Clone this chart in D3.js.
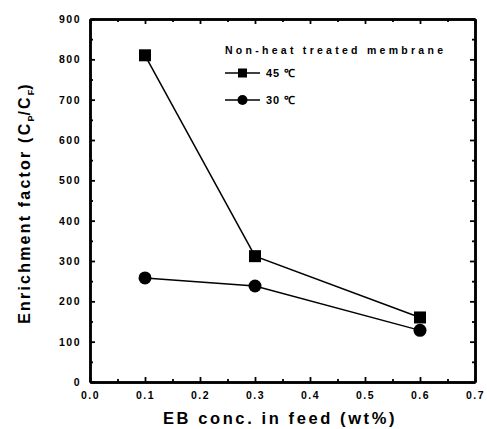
<!DOCTYPE html>
<html>
<head>
<meta charset="utf-8">
<script src="https://cdnjs.cloudflare.com/ajax/libs/d3/7.8.5/d3.min.js"></script>
<style>
  body { margin: 0; background: #fff; }
  text { font-family: Arial, "Liberation Sans", sans-serif; font-weight: bold; fill: #000; }
</style>
</head>
<body>
<div id="chart"></div>
<script>
// data
var conc = [0.1, 0.3, 0.6];
var ef45 = [810, 312, 160];
var ef30 = [258, 238, 128];
var xTicks = [0, 0.1, 0.2, 0.3, 0.4, 0.5, 0.6, 0.7];
var yTicks = [0, 100, 200, 300, 400, 500, 600, 700, 800, 900];

var W = 487, H = 429;
var margin = { top: 19, right: 12, bottom: 47, left: 90 },
    width = W - margin.left - margin.right,
    height = H - margin.top - margin.bottom;

var svg = d3.select("#chart").append("svg")
    .attr("width", W).attr("height", H);
var g = svg.append("g")
    .attr("transform", "translate(" + margin.left + "," + margin.top + ")");

var x = d3.scaleLinear().domain([0, 0.7]).range([0, width]);
var y = d3.scaleLinear().domain([0, 900]).range([height, 0]);

var xMinor = d3.range(0.05, 0.7, 0.1);
var yMinor = d3.range(50, 900, 100);

// bottom axis with labels, ticks inside
g.append("g").attr("transform", "translate(0," + height + ")")
    .call(d3.axisBottom(x).tickValues(xTicks).tickFormat(d3.format(".1f")).tickSizeInner(-5).tickSizeOuter(0).tickPadding(10));
g.append("g").attr("transform", "translate(0," + height + ")")
    .call(d3.axisBottom(x).tickValues(xMinor).tickFormat("").tickSizeInner(-3).tickSizeOuter(0));
// top axis
g.append("g").call(d3.axisTop(x).tickValues(xTicks).tickFormat("").tickSizeInner(-5).tickSizeOuter(0));
g.append("g").call(d3.axisTop(x).tickValues(xMinor).tickFormat("").tickSizeInner(-3).tickSizeOuter(0));
// left axis
g.append("g")
    .call(d3.axisLeft(y).tickValues(yTicks).tickSizeInner(-5).tickSizeOuter(0).tickPadding(9));
g.append("g").call(d3.axisLeft(y).tickValues(yMinor).tickFormat("").tickSizeInner(-3).tickSizeOuter(0));
// right axis
g.append("g").attr("transform", "translate(" + width + ",0)")
    .call(d3.axisRight(y).tickValues(yTicks).tickFormat("").tickSizeInner(-5).tickSizeOuter(0));
g.append("g").attr("transform", "translate(" + width + ",0)")
    .call(d3.axisRight(y).tickValues(yMinor).tickFormat("").tickSizeInner(-3).tickSizeOuter(0));

g.selectAll(".domain").attr("stroke", "#000").attr("stroke-width", 2.5);
g.selectAll(".tick line").attr("stroke", "#000").attr("stroke-width", 1.8);
g.selectAll(".tick text")
    .style("font-family", "Arial, 'Liberation Sans', sans-serif")
    .style("font-weight", "bold").style("font-size", "10.5px")
    .style("letter-spacing", "1.5px");

// series lines
var line = d3.line()
    .x(function (d) { return x(d[0]); })
    .y(function (d) { return y(d[1]); });

var s45 = conc.map(function (c, i) { return [c, ef45[i]]; });
var s30 = conc.map(function (c, i) { return [c, ef30[i]]; });

g.append("path").datum(s45).attr("d", line)
    .attr("fill", "none").attr("stroke", "#000").attr("stroke-width", 1.5);
g.append("path").datum(s30).attr("d", line)
    .attr("fill", "none").attr("stroke", "#000").attr("stroke-width", 1.5);

var sq = 12;
g.selectAll(".sq").data(s45).enter().append("rect")
    .attr("x", function (d) { return x(d[0]) - sq / 2; })
    .attr("y", function (d) { return y(d[1]) - sq / 2; })
    .attr("width", sq).attr("height", sq).attr("fill", "#000");
g.selectAll(".ci").data(s30).enter().append("circle")
    .attr("cx", function (d) { return x(d[0]); })
    .attr("cy", function (d) { return y(d[1]); })
    .attr("r", 6.5).attr("fill", "#000");

// legend
var lg = svg.append("g");
lg.append("text").attr("x", 225).attr("y", 54)
    .style("font-size", "10.5px")
    .attr("textLength", 218).attr("lengthAdjust", "spacing")
    .text("Non-heat treated membrane");
var rows = [{ label: "45 \u2103", y: 73, shape: "sq" }, { label: "30 \u2103", y: 100, shape: "ci" }];
rows.forEach(function (r) {
    lg.append("line").attr("x1", 225).attr("x2", 260).attr("y1", r.y).attr("y2", r.y)
        .attr("stroke", "#000").attr("stroke-width", 1.5);
    if (r.shape == "sq") {
        lg.append("rect").attr("x", 238).attr("y", r.y - 4.5).attr("width", 9).attr("height", 9).attr("fill", "#000");
    } else {
        lg.append("circle").attr("cx", 242.5).attr("cy", r.y).attr("r", 5).attr("fill", "#000");
    }
    lg.append("text").attr("x", 266).attr("y", r.y + 4)
        .style("font-size", "11px").style("letter-spacing", "1px")
        .text(r.label);
});

// axis titles
svg.append("text")
    .attr("x", 280).attr("y", 424)
    .attr("text-anchor", "middle")
    .style("font-size", "16.5px").style("letter-spacing", "2.6px")
    .text("EB conc. in feed (wt%)");

var yt = svg.append("text")
    .attr("transform", "translate(30,203) rotate(-90)")
    .attr("text-anchor", "middle")
    .style("font-size", "16px").style("letter-spacing", "2.2px");
yt.append("tspan").text("Enrichment factor (C");
yt.append("tspan").attr("dy", 4).style("font-size", "9px").style("letter-spacing", "0px").text("P");
yt.append("tspan").attr("dy", -4).text("/C");
yt.append("tspan").attr("dy", 4).style("font-size", "9px").style("letter-spacing", "0px").text("F");
yt.append("tspan").attr("dy", -4).text(")");
</script>
</body>
</html>
